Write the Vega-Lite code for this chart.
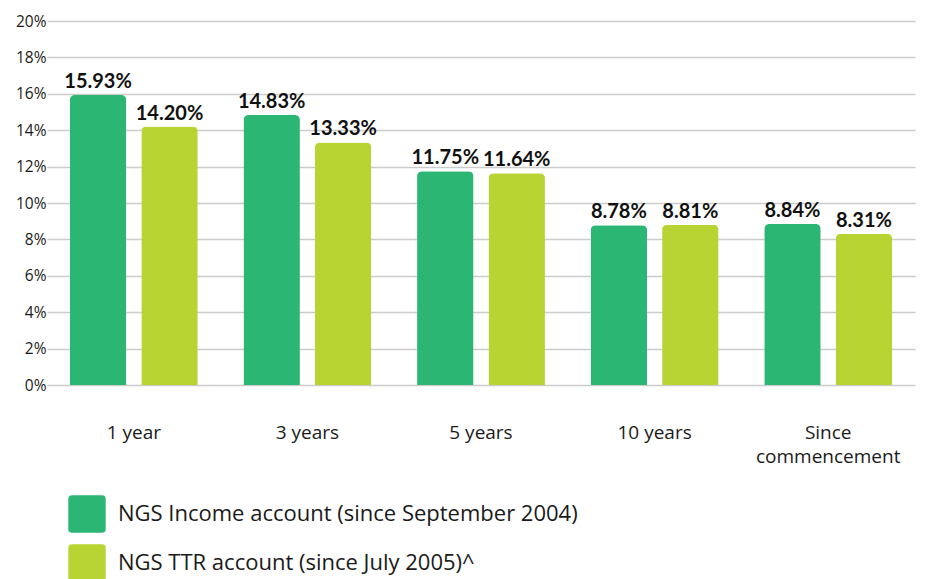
{
  "$schema": "https://vega.github.io/schema/vega-lite/v6.json",
  "autosize": {"type": "none"},
  "padding": {"left": 47, "top": 21, "right": 15, "bottom": 194},
  "width": 868,
  "height": 364,
  "background": "white",
  "config": {
    "view": {"stroke": null},
    "font": "Open Sans"
  },
  "data": {
    "values": [
      {"period": "1 year", "account": "NGS Income account (since September 2004)", "value": 15.93, "label": "15.93%"},
      {"period": "1 year", "account": "NGS TTR account (since July 2005)^", "value": 14.20, "label": "14.20%"},
      {"period": "3 years", "account": "NGS Income account (since September 2004)", "value": 14.83, "label": "14.83%"},
      {"period": "3 years", "account": "NGS TTR account (since July 2005)^", "value": 13.33, "label": "13.33%"},
      {"period": "5 years", "account": "NGS Income account (since September 2004)", "value": 11.75, "label": "11.75%"},
      {"period": "5 years", "account": "NGS TTR account (since July 2005)^", "value": 11.64, "label": "11.64%"},
      {"period": "10 years", "account": "NGS Income account (since September 2004)", "value": 8.78, "label": "8.78%"},
      {"period": "10 years", "account": "NGS TTR account (since July 2005)^", "value": 8.81, "label": "8.81%"},
      {"period": "Since commencement", "account": "NGS Income account (since September 2004)", "value": 8.84, "label": "8.84%"},
      {"period": "Since commencement", "account": "NGS TTR account (since July 2005)^", "value": 8.31, "label": "8.31%"}
    ]
  },
  "encoding": {
    "x": {
      "field": "period", "type": "nominal", "sort": null,
      "scale": {"paddingInner": 0, "paddingOuter": 0},
      "axis": {
        "title": null, "labelAngle": 0, "domain": false, "ticks": false,
        "labelFontSize": 19, "labelColor": "#1a1a1a", "labelPadding": 38,
        "labelFont": "Open Sans", "labelFontWeight": "normal", "labelLineHeight": 24,
        "labelExpr": "datum.value == 'Since commencement' ? ['Since', 'commencement'] : datum.value"
      }
    },
    "xOffset": {
      "field": "account", "type": "nominal", "sort": null,
      "scale": {"paddingInner": 0.21, "paddingOuter": 0.32}
    },
    "y": {
      "field": "value", "type": "quantitative",
      "scale": {"domain": [0, 20], "nice": false},
      "axis": {
        "title": null, "values": [0, 2, 4, 6, 8, 10, 12, 14, 16, 18, 20],
        "labelExpr": "datum.value + '%'", "domain": false, "ticks": false,
        "labelPadding": 1, "labelFontSize": 15.5, "labelColor": "#1a1a1a",
        "labelFont": "Open Sans", "labelFontWeight": "normal",
        "gridColor": "#cccccc", "gridWidth": 1.5
      }
    }
  },
  "layer": [
    {
      "mark": {"type": "bar", "cornerRadiusTopLeft": 5, "cornerRadiusTopRight": 5},
      "encoding": {
        "color": {
          "field": "account", "type": "nominal", "sort": null,
          "scale": {"range": ["#2BB673", "#B8D433"]},
          "legend": {
            "title": null, "orient": "none", "legendX": 21, "legendY": 474,
            "direction": "vertical", "padding": 0,
            "symbolType": "M-0.8,-1L0.8,-1Q1,-1 1,-0.8L1,0.8Q1,1 0.8,1L-0.8,1Q-1,1 -1,0.8L-1,-0.8Q-1,-1 -0.8,-1Z",
            "symbolSize": 1400, "symbolStrokeWidth": 0, "symbolOpacity": 1,
            "rowPadding": 11, "labelOffset": 12, "labelFontSize": 22,
            "labelColor": "#1a1a1a", "labelFont": "Open Sans", "labelFontWeight": "normal",
            "labelLimit": 700
          }
        }
      }
    },
    {
      "mark": {"type": "text", "baseline": "bottom", "dy": -3, "fontSize": 20, "fontWeight": "bold", "color": "#111111", "font": "Lato"},
      "encoding": {
        "text": {"field": "label"}
      }
    }
  ]
}
